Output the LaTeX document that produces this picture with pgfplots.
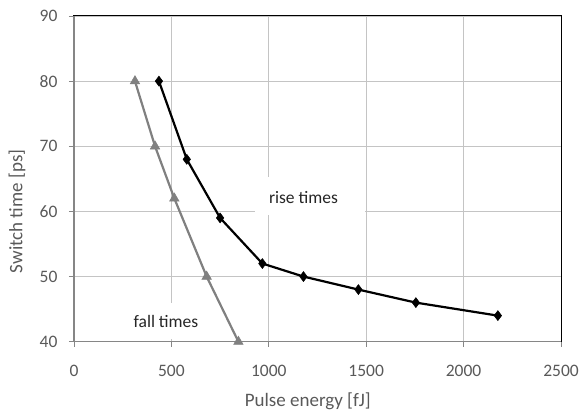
\documentclass[border=0pt]{standalone}
\usepackage{pgfplots}
\pgfplotsset{compat=1.18}
\usepackage{fontspec}
\setmainfont{Carlito}
\definecolor{tickgray}{HTML}{595959}
\definecolor{axgray}{HTML}{868686}
\definecolor{gridgray}{HTML}{C4C4C4}
\definecolor{fallgray}{HTML}{808080}
\begin{document}
\begin{tikzpicture}
\begin{axis}[
  name=ax,
  scale only axis,
  width=487pt, height=325.7pt,
  xmin=0, xmax=2500, ymin=40, ymax=90,
  xtick={0,500,1000,1500,2000,2500},
  ytick={40,50,60,70,80,90},
  grid=major,
  major grid style={gridgray, line width=0.8pt},
  axis line style={black, line width=1pt},
  tick align=outside,
  xtick pos=bottom, ytick pos=left,
  major tick length=5pt,
  tick style={axgray, line width=0.8pt},
  /pgf/number format/assume math mode=true,
  /pgf/number format/1000 sep={},
  ticklabel style={text=tickgray, font=\fontsize{17.5}{19}\selectfont},
  xticklabel style={yshift=-15pt},
  yticklabel style={xshift=-8pt},
  xlabel={Pulse energy [fJ]},
  ylabel={Switch time [ps]},
  xlabel style={at={(axis description cs:0.48,-0.184)}, anchor=center, text=tickgray, font=\fontsize{19}{21}\selectfont},
  ylabel style={at={(axis description cs:-0.117,0.40)}, anchor=center, rotate=0, text=tickgray, font=\fontsize{19}{21}\selectfont},
  clip=false,
]
\fill[white] (axis cs:929,59.45) rectangle (axis cs:1494,65.28);
\fill[white] (axis cs:262,40.4) rectangle (axis cs:672,45.94);
\draw[axgray, line width=1.5pt] (rel axis cs:0,1) -- (rel axis cs:0,0) -- (rel axis cs:1,0);
\addplot[fallgray, line width=2.2pt, mark=triangle*, mark size=5.5pt, mark options={fill=fallgray, draw=fallgray, line width=0.5pt}]
  coordinates {(313,80) (416,70) (515,62) (681,50) (844,40)};
\addplot[black, line width=2.2pt, mark=diamond*, mark size=5pt, mark options={fill=black, line width=0.5pt}]
  coordinates {(436,80) (579,68) (750,59) (967,52) (1178,50) (1460,48) (1755,46) (2176,44)};
\node[text=black!85, font=\fontsize{17.5}{19}\selectfont] at (axis cs:1178,62.06) {rise times};
\node[text=black!85, font=\fontsize{17.5}{19}\selectfont] at (axis cs:472,43.07) {fall times};
\end{axis}
\pgfresetboundingbox
\path[use as bounding box] ([xshift=-74pt,yshift=-72.3pt]ax.south west) rectangle ([xshift=19pt,yshift=16pt]ax.north east);
\end{tikzpicture}
\end{document}
